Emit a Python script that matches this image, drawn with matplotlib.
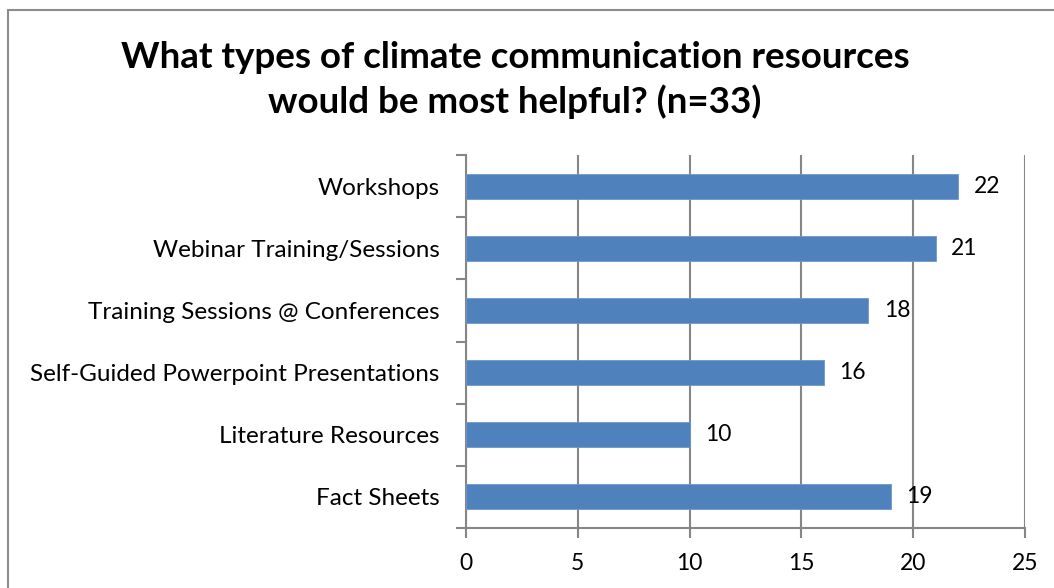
import matplotlib
matplotlib.use("Agg")
import matplotlib.pyplot as plt
from matplotlib.patches import Rectangle

categories = ["Workshops", "Webinar Training/Sessions", "Training Sessions @ Conferences",
              "Self-Guided Powerpoint Presentations", "Literature Resources", "Fact Sheets"]
counts = [22, 21, 18, 16, 10, 19]
xticks = [0, 5, 10, 15, 20, 25]
title = "What types of climate communication resources\nwould be most helpful? (n=33)"

plt.rcParams['font.family'] = ['Lato', 'DejaVu Sans']

fig = plt.figure(figsize=(10.54, 5.88), dpi=100)
fig.patches.append(Rectangle((8 / 1054, -0.1), 1.2, 1 - 10 / 588 + 0.1, transform=fig.transFigure,
                             fill=False, edgecolor="#8c8c8c", linewidth=1.5))
ax = fig.add_axes([466 / 1054, 1 - 528 / 588, (1025 - 466) / 1054, (528 - 155) / 588])

pos = list(range(len(categories)))[::-1]
ax.barh(pos, counts, height=0.4, color="#4F81BD", edgecolor="#6f97c9", linewidth=0.6, zorder=3)
for p, c in zip(pos, counts):
    ax.text(c + 0.7, p, str(c), va="center", ha="left", fontsize=16.5, color="black", zorder=4)

ax.set_xlim(0, 25)
ax.set_ylim(-0.5, len(categories) - 0.5)
ax.set_xticks(xticks)
ax.set_xticklabels([str(t) for t in xticks], fontsize=16.5)
ax.set_yticks(pos)
ax.set_yticklabels(categories, fontsize=17.5)
ax.tick_params(axis="y", length=0, pad=19)
ax.set_yticks([i - 0.5 for i in range(len(categories) + 1)], minor=True)
ax.tick_params(axis="y", which="minor", length=7, color="#868686", width=1.5)
ax.tick_params(axis="x", length=7, color="#868686", width=1.5, pad=11)
ax.grid(axis="x", color="#868686", linewidth=1.5, zorder=0)
for s in ["top", "right"]:
    ax.spines[s].set_visible(False)
for s in ["left", "bottom"]:
    ax.spines[s].set_color("#868686")
    ax.spines[s].set_linewidth(1.5)

fig.text(515 / 1054, 1 - 80 / 588, title, ha="center", va="center", fontsize=26.5,
         fontweight="bold", linespacing=1.35)

fig.savefig("out.png", dpi=100)
